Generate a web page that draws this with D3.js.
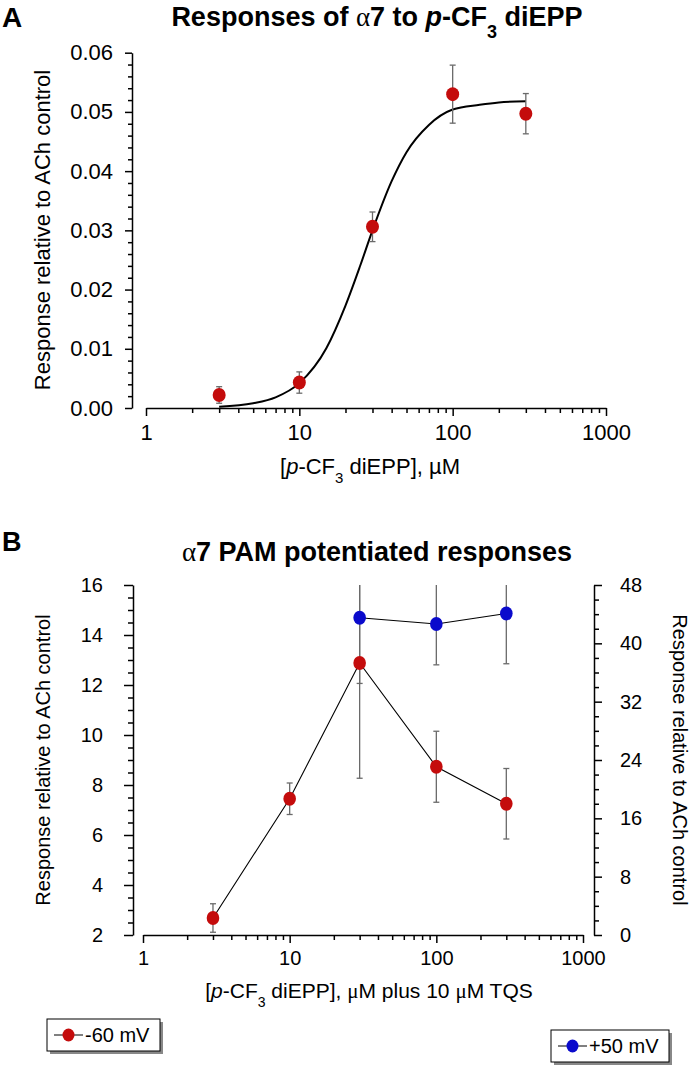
<!DOCTYPE html>
<html><head><meta charset="utf-8">
<script src="https://cdn.jsdelivr.net/npm/d3@7"></script>
<style>
body{margin:0;background:#fff}
svg{display:block}
text{font-family:"Liberation Sans",Arial,sans-serif;fill:#000}
</style>
</head><body>
<svg id="c" width="690" height="1065"></svg>
<script>
// ---------- Panel A data ----------
const concA = [3, 10, 30, 100, 300];
const respA = [0.0022, 0.0043, 0.0306, 0.0530, 0.0497];
const errA  = [0.0014, 0.0018, 0.0025, 0.0049, 0.0034];
const fitX  = [3, 5, 7, 10, 15, 20, 25, 30, 40, 50, 70, 100, 150, 200, 300];
const fitY  = [0.0002, 0.0008, 0.0018, 0.0042, 0.0101, 0.0173, 0.0241, 0.0300, 0.0383, 0.0432, 0.0478, 0.0504, 0.0512, 0.0516, 0.0518];
const yTicksA = [0, 0.01, 0.02, 0.03, 0.04, 0.05, 0.06];
const yTickLabelsA = ["0.00","0.01","0.02","0.03","0.04","0.05","0.06"];

// ---------- Panel B data ----------
const concB = [3, 10, 30, 100, 300];
const neg60 = [2.68, 7.45, 12.88, 8.73, 7.25];
const neg60Err = [0.57, 0.63, 4.61, 1.42, 1.41];
const concBlue = [30, 100, 300];
const pos50 = [43.5, 42.65, 44.1];
const pos50Err = [9.0, 5.6, 6.9];
const yTicksBL = [2, 4, 6, 8, 10, 12, 14, 16];
const yTicksBR = [0, 8, 16, 24, 32, 40, 48];

const xMajors = [1, 10, 100, 1000];
const xMinors = [2,3,4,5,6,7,8,9,20,30,40,50,60,70,80,90,200,300,400,500,600,700,800,900];

const svg = d3.select("#c");
const RED = "#c40c0c", BLUE = "#0a0acc", ERR = "#6a6a6a";
const SERIF = '"Liberation Serif","Times New Roman",serif';

function styleAxis(g, fs){
  g.selectAll("path,line").attr("stroke","#000").attr("stroke-width",1.5);
  g.selectAll("text").attr("font-size",fs).attr("fill","#000")
   .attr("font-family",'"Liberation Sans",Arial,sans-serif');
}
function drawAxis(axisFn, scale, tr, majors, minors, majLen, minLen, pad, fmt, fs){
  const gm = svg.append("g").attr("transform",tr)
    .call(axisFn(scale).tickValues(minors).tickSize(minLen).tickSizeOuter(0).tickFormat(""));
  gm.select(".domain").remove();
  styleAxis(gm, fs);
  const g = svg.append("g").attr("transform",tr)
    .call(axisFn(scale).tickValues(majors).tickSize(majLen).tickSizeOuter(0).tickPadding(pad).tickFormat(fmt));
  styleAxis(g, fs);
  return g;
}

// ================= Panel A =================
const xA = d3.scaleLog().domain([1,1000]).range([146,606]);
const yA = d3.scaleLinear().domain([0,0.06]).range([408,52.7]);

svg.append("text").attr("x",2).attr("y",27).attr("font-size",28).attr("font-weight","bold").text("A");
const tA = svg.append("text").attr("x",377).attr("y",26).attr("text-anchor","middle")
  .attr("font-size",27).attr("font-weight","bold");
tA.append("tspan").text("Responses of ");
tA.append("tspan").attr("font-family",SERIF).attr("font-weight","normal").text("α");
tA.append("tspan").text("7 to ");
tA.append("tspan").attr("font-style","italic").text("p");
tA.append("tspan").text("-CF");
tA.append("tspan").attr("font-size",18).attr("dy",12).text("3");
tA.append("tspan").attr("dy",-12).text(" diEPP");

const minorA = d3.range(0, 0.0601, 0.002).filter(v => Math.abs(v*100 - Math.round(v*100)) > 1e-6);
drawAxis(d3.axisLeft, yA, "translate(132,0)", yTicksA, minorA, 7, 4, 12, (d,i)=>yTickLabelsA[i], 22);
drawAxis(d3.axisBottom, xA, "translate(0,408)", xMajors, xMinors, 8, 5, 8, d3.format("d"), 22);

svg.append("text").attr("transform","translate(50,230) rotate(-90)").attr("text-anchor","middle")
  .attr("font-size",22).text("Response relative to ACh control");
const xlA = svg.append("text").attr("x",370).attr("y",474).attr("text-anchor","middle").attr("font-size",22);
xlA.append("tspan").text("[");
xlA.append("tspan").attr("font-style","italic").text("p");
xlA.append("tspan").text("-CF");
xlA.append("tspan").attr("font-size",15).attr("dy",9).text("3");
xlA.append("tspan").attr("dy",-9).text(" diEPP], µM");

// fit curve
svg.append("path").datum(fitX.map((x,i)=>({x, y: fitY[i]})))
  .attr("fill","none").attr("stroke","#000").attr("stroke-width",2)
  .attr("d", d3.line().x(d=>xA(d.x)).y(d=>yA(d.y)).curve(d3.curveMonotoneX));

function errBars(g, xs, ys, es, xs_, ys_){
  xs.forEach((x,i)=>{
    const cx = xs_(x), y1 = ys_(ys[i]-es[i]), y2 = ys_(ys[i]+es[i]);
    g.append("line").attr("x1",cx).attr("x2",cx).attr("y1",y1).attr("y2",y2);
    g.append("line").attr("x1",cx-3).attr("x2",cx+3).attr("y1",y1).attr("y2",y1);
    g.append("line").attr("x1",cx-3).attr("x2",cx+3).attr("y1",y2).attr("y2",y2);
  });
  g.selectAll("line").attr("stroke",ERR).attr("stroke-width",1.3);
}
errBars(svg.append("g"), concA, respA, errA, xA, yA);
svg.append("g").selectAll("ellipse").data(concA).join("ellipse")
  .attr("cx",d=>xA(d)).attr("cy",(d,i)=>yA(respA[i])).attr("rx",6.5).attr("ry",7)
  .attr("fill",RED);

// ================= Panel B =================
const xB = d3.scaleLog().domain([1,1000]).range([143,583]);
const yL = d3.scaleLinear().domain([2,16]).range([935,585]);
const yR = d3.scaleLinear().domain([0,48]).range([935,585]);

svg.append("text").attr("x",2).attr("y",551).attr("font-size",27).attr("font-weight","bold").text("B");
const tB = svg.append("text").attr("x",377).attr("y",561).attr("text-anchor","middle")
  .attr("font-size",27).attr("font-weight","bold");
tB.append("tspan").attr("font-family",SERIF).attr("font-weight","normal").text("α");
tB.append("tspan").text("7 PAM potentiated responses");

const minorBL = d3.range(2, 16.01, 0.5).filter(v => v % 2 !== 0);
const minorBR = d3.range(0, 48.01, 2).filter(v => v % 8 !== 0);
drawAxis(d3.axisLeft, yL, "translate(133,0)", yTicksBL, minorBL, 9, 5, 21, d3.format("d"), 20);
drawAxis(d3.axisRight, yR, "translate(594,0)", yTicksBR, minorBR, 8, 5, 18, d3.format("d"), 20);
drawAxis(d3.axisBottom, xB, "translate(0,935)", xMajors, xMinors, 8, 5, 8, d3.format("d"), 20);

svg.append("text").attr("transform","translate(50,760) rotate(-90)").attr("text-anchor","middle")
  .attr("font-size",20).text("Response relative to ACh control");
svg.append("text").attr("transform","translate(673,760) rotate(90)").attr("text-anchor","middle")
  .attr("font-size",20).text("Response relative to ACh control");
const xlB = svg.append("text").attr("x",369).attr("y",998).attr("text-anchor","middle").attr("font-size",21);
xlB.append("tspan").text("[");
xlB.append("tspan").attr("font-style","italic").text("p");
xlB.append("tspan").text("-CF");
xlB.append("tspan").attr("font-size",14).attr("dy",9).text("3");
xlB.append("tspan").attr("dy",-9).text(" diEPP], ");
xlB.append("tspan").attr("font-family",SERIF).text("μ");
xlB.append("tspan").text("M plus 10 ");
xlB.append("tspan").attr("font-family",SERIF).text("μ");
xlB.append("tspan").text("M TQS");

svg.append("clipPath").attr("id","clipB").append("rect")
  .attr("x",100).attr("y",585).attr("width",520).attr("height",360);
const plotB = svg.append("g").attr("clip-path","url(#clipB)");

errBars(plotB.append("g"), concB, neg60, neg60Err, xB, yL);
errBars(plotB.append("g"), concBlue, pos50, pos50Err, xB, yR);

plotB.append("path").datum(concB.map((x,i)=>({x, y: neg60[i]})))
  .attr("fill","none").attr("stroke","#000").attr("stroke-width",1.1)
  .attr("d", d3.line().x(d=>xB(d.x)).y(d=>yL(d.y)));
plotB.append("path").datum(concBlue.map((x,i)=>({x, y: pos50[i]})))
  .attr("fill","none").attr("stroke","#000").attr("stroke-width",1.1)
  .attr("d", d3.line().x(d=>xB(d.x)).y(d=>yR(d.y)));

plotB.append("g").selectAll("ellipse").data(concB).join("ellipse")
  .attr("cx",d=>xB(d)).attr("cy",(d,i)=>yL(neg60[i])).attr("rx",6.3).attr("ry",7).attr("fill",RED);
plotB.append("g").selectAll("ellipse").data(concBlue).join("ellipse")
  .attr("cx",d=>xB(d)).attr("cy",(d,i)=>yR(pos50[i])).attr("rx",6.3).attr("ry",7).attr("fill",BLUE);

// legends
const legends = [
  {label:"-60 mV", color:RED, x:47, y:1019, w:113, h:32},
  {label:"+50 mV", color:BLUE, x:551, y:1030, w:118, h:32}
];
legends.forEach(l=>{
  const g = svg.append("g");
  g.append("rect").attr("x",l.x+3).attr("y",l.y+3).attr("width",l.w).attr("height",l.h).attr("fill","#888");
  g.append("rect").attr("x",l.x).attr("y",l.y).attr("width",l.w).attr("height",l.h)
    .attr("fill","#fff").attr("stroke","#000").attr("stroke-width",1);
  const cy = l.y + l.h/2;
  g.append("line").attr("x1",l.x+7).attr("x2",l.x+36).attr("y1",cy).attr("y2",cy).attr("stroke","#000").attr("stroke-width",1);
  g.append("ellipse").attr("cx",l.x+21.5).attr("cy",cy).attr("rx",6).attr("ry",6.5).attr("fill",l.color);
  g.append("text").attr("x",l.x+38).attr("y",cy+7).attr("font-size",20).text(l.label);
});
</script>
</body></html>
